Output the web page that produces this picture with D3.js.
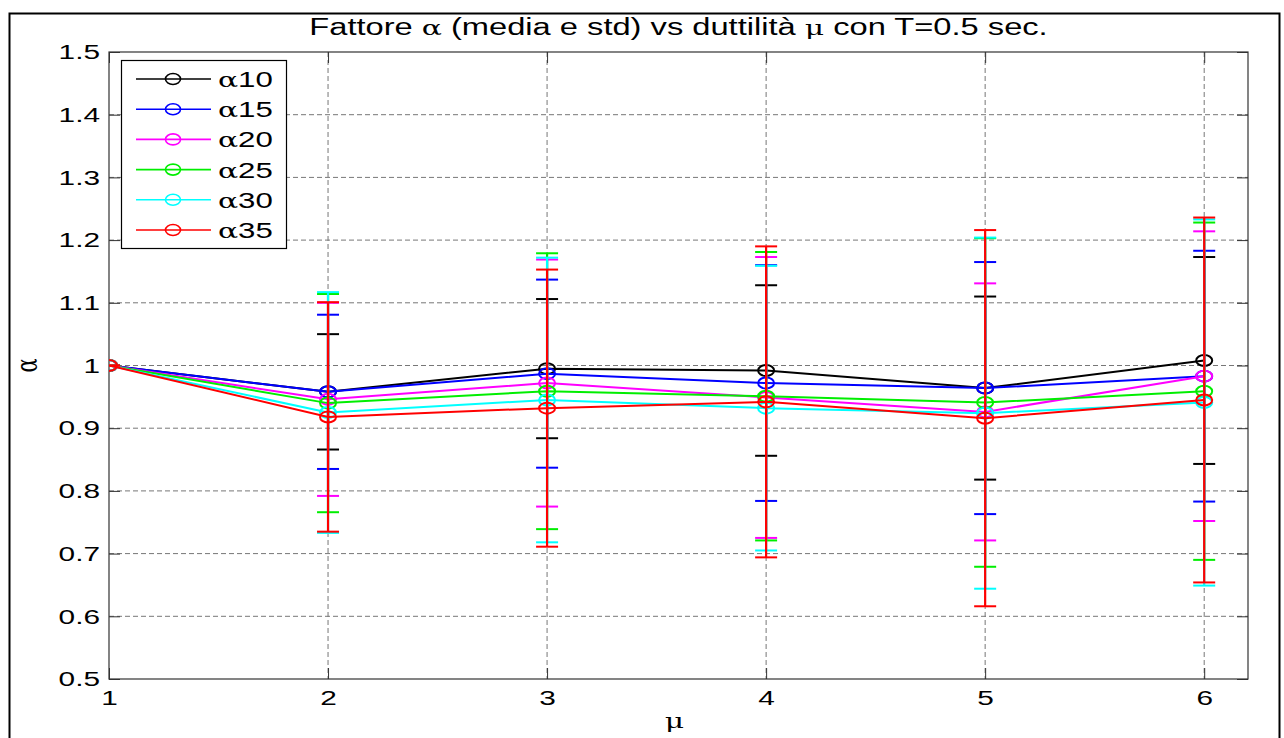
<!DOCTYPE html>
<html>
<head>
<meta charset="utf-8">
<script src="https://cdn.jsdelivr.net/npm/d3@7.9.0/dist/d3.min.js"></script>
<style>
  body { margin: 0; background: #fff; }
  svg text { font-family: "Liberation Sans", Arial, sans-serif; }
</style>
</head>
<body>
<div id="chart"></div>
<script>
// ductility values on the x axis
const mu = [1, 2, 3, 4, 5, 6];

// legend names
const seriesNames = ['10', '15', '20', '25', '30', '35'];

// mean of alpha for each series
const mean10 = [1, 0.958, 0.995, 0.992, 0.964, 1.008];
const mean15 = [1, 0.958, 0.987, 0.972, 0.964, 0.983];
const mean20 = [1, 0.946, 0.972, 0.949, 0.926, 0.983];
const mean25 = [1, 0.940, 0.959, 0.951, 0.941, 0.959];
const mean30 = [1, 0.925, 0.945, 0.932, 0.924, 0.941];
const mean35 = [1, 0.918, 0.932, 0.942, 0.916, 0.945];

// standard deviation for each series
const std10 = [0, 0.092, 0.111, 0.136, 0.146, 0.165];
const std15 = [0, 0.123, 0.150, 0.188, 0.201, 0.200];
const std20 = [0, 0.154, 0.197, 0.224, 0.205, 0.231];
const std25 = [0, 0.174, 0.220, 0.230, 0.262, 0.269];
const std30 = [0, 0.192, 0.227, 0.227, 0.280, 0.292];
const std35 = [0, 0.183, 0.221, 0.248, 0.300, 0.291];

const xTicks = [1, 2, 3, 4, 5, 6];
const yTicks = [0.5, 0.6, 0.7, 0.8, 0.9, 1, 1.1, 1.2, 1.3, 1.4, 1.5];

const colors = ['#000000', '#0000ff', '#ff00ff', '#00ee00', '#00ffff', '#ff0000'];
const means = [mean10, mean15, mean20, mean25, mean30, mean35];
const stds = [std10, std15, std20, std25, std30, std35];

const series = seriesNames.map((name, i) => ({
    name: name,
    color: colors[i],
    points: mu.map((m, j) => ({ x: m, y: means[i][j], s: stds[i][j] }))
}));

const width = 1284, height = 738;
const plotL = 109, plotR = 1248, plotT = 52, plotB = 679;
const sx = 1.42; // the figure is stretched horizontally, text too

// stretch text horizontally about its own x anchor
function stretch(sel) {
    sel.each(function() {
        const t = d3.select(this);
        const x0 = +t.attr('x') || 0;
        t.attr('transform', `translate(${x0 * (1 - sx)},0) scale(${sx},1)`);
    });
}

const svg = d3.select('#chart')
    .append('svg')
    .attr('width', width)
    .attr('height', height);

// outer figure frame
svg.append('rect')
    .attr('x', 9.5)
    .attr('y', 13.5)
    .attr('width', 1270)
    .attr('height', 740)
    .attr('fill', 'none')
    .attr('stroke', '#000')
    .attr('stroke-width', 2);

const x = d3.scaleLinear().domain([1, 6.2]).range([plotL, plotR]);
const y = d3.scaleLinear().domain([0.5, 1.5]).range([plotB, plotT]);

// grid lines
svg.append('g')
    .selectAll('line')
    .data(xTicks.slice(1))
    .join('line')
    .attr('x1', d => x(d)).attr('x2', d => x(d))
    .attr('y1', plotT).attr('y2', plotB)
    .attr('stroke', '#777')
    .attr('stroke-width', 1)
    .attr('stroke-dasharray', '5,3');

svg.append('g')
    .selectAll('line')
    .data(yTicks.slice(1, -1))
    .join('line')
    .attr('x1', plotL).attr('x2', plotR)
    .attr('y1', d => y(d)).attr('y2', d => y(d))
    .attr('stroke', '#777')
    .attr('stroke-width', 1)
    .attr('stroke-dasharray', '5,3');

// axes (ticks point inwards, like matlab)
const tickLen = 11;
const xAxisB = svg.append('g')
    .attr('transform', `translate(0,${plotB})`)
    .call(d3.axisBottom(x).tickValues(xTicks).tickSize(-tickLen).tickPadding(11).tickFormat(d3.format('d')));
const xAxisT = svg.append('g')
    .attr('transform', `translate(0,${plotT})`)
    .call(d3.axisTop(x).tickValues(xTicks).tickSize(-tickLen).tickFormat(''));
const yAxisL = svg.append('g')
    .attr('transform', `translate(${plotL},0)`)
    .call(d3.axisLeft(y).tickValues(yTicks).tickSize(-tickLen).tickPadding(9).tickFormat(d => d === 1 ? '1' : d3.format('.1f')(d)));
const yAxisR = svg.append('g')
    .attr('transform', `translate(${plotR},0)`)
    .call(d3.axisRight(y).tickValues(yTicks).tickSize(-tickLen).tickFormat(''));

[xAxisB, xAxisT, yAxisL, yAxisR].forEach(g => {
    g.select('.domain').remove();
    g.selectAll('line').attr('stroke', '#333');
    g.selectAll('text')
        .attr('fill', '#000')
        .style('font-size', '21px')
        .style('font-family', '"Liberation Sans", Arial, sans-serif');
});
stretch(xAxisB.selectAll('text'));
stretch(yAxisL.selectAll('text'));

// axes box
svg.append('rect')
    .attr('x', plotL)
    .attr('y', plotT)
    .attr('width', plotR - plotL)
    .attr('height', plotB - plotT)
    .attr('fill', 'none')
    .attr('stroke', '#333')
    .attr('stroke-width', 1.2);

svg.append('clipPath')
    .attr('id', 'plot-clip')
    .append('rect')
    .attr('x', plotL).attr('y', plotT)
    .attr('width', plotR - plotL).attr('height', plotB - plotT);

const plot = svg.append('g').attr('clip-path', 'url(#plot-clip)');

const line = d3.line().x(d => x(d.x)).y(d => y(d.y));
const tee = 11;

series.forEach(s => {
    const g = plot.append('g');

    // error bars
    g.selectAll('line.stem')
        .data(s.points)
        .join('line')
        .attr('class', 'stem')
        .attr('x1', d => x(d.x)).attr('x2', d => x(d.x))
        .attr('y1', d => y(d.y - d.s)).attr('y2', d => y(d.y + d.s))
        .attr('stroke', s.color)
        .attr('stroke-width', 2.2);

    ['lo', 'hi'].forEach(k => {
        g.selectAll('line.' + k)
            .data(s.points)
            .join('line')
            .attr('class', k)
            .attr('x1', d => x(d.x) - tee).attr('x2', d => x(d.x) + tee)
            .attr('y1', d => y(k === 'lo' ? d.y - d.s : d.y + d.s))
            .attr('y2', d => y(k === 'lo' ? d.y - d.s : d.y + d.s))
            .attr('stroke', s.color)
            .attr('stroke-width', 2);
    });

    // mean line
    g.append('path')
        .attr('d', line(s.points))
        .attr('fill', 'none')
        .attr('stroke', s.color)
        .attr('stroke-width', 2);

    g.selectAll('ellipse')
        .data(s.points)
        .join('ellipse')
        .attr('cx', d => x(d.x))
        .attr('cy', d => y(d.y))
        .attr('rx', 8)
        .attr('ry', 5.5)
        .attr('fill', 'none')
        .attr('stroke', s.color)
        .attr('stroke-width', 2);
});

// title
const title = svg.append('text')
    .attr('x', (plotL + plotR) / 2)
    .attr('y', 35)
    .attr('text-anchor', 'middle')
    .style('font-size', '23px');
title.append('tspan').text('Fattore ');
title.append('tspan').style('font-family', '"DejaVu Serif", serif').style('font-size', '21px').text('α');
title.append('tspan').text(' (media e std) vs duttilità ');
title.append('tspan').style('font-family', '"DejaVu Serif", serif').style('font-size', '21px').text('μ');
title.append('tspan').text(' con T=0.5 sec.');
stretch(title);

// axis labels
const xLabel = svg.append('text')
    .attr('x', (plotL + plotR) / 2 - 4)
    .attr('y', 728)
    .attr('text-anchor', 'middle')
    .style('font-family', '"DejaVu Serif", serif')
    .style('font-size', '21px')
    .text('μ');
stretch(xLabel);

svg.append('text')
    .attr('transform', `translate(37,${(plotT + plotB) / 2}) rotate(-90) scale(1,${sx})`)
    .attr('text-anchor', 'middle')
    .style('font-family', '"DejaVu Serif", serif')
    .style('font-size', '21px')
    .text('α');

// legend
const legend = svg.append('g');
legend.append('rect')
    .attr('x', 121.5).attr('y', 60.5)
    .attr('width', 165).attr('height', 188)
    .attr('fill', '#fff')
    .attr('stroke', '#000')
    .attr('stroke-width', 1.2);

const ly = d3.scalePoint().domain(seriesNames).range([79, 230]);
series.forEach(s => {
    const yy = ly(s.name);
    legend.append('line')
        .attr('x1', 136).attr('x2', 211)
        .attr('y1', yy).attr('y2', yy)
        .attr('stroke', s.color)
        .attr('stroke-width', 1.6);
    legend.append('ellipse')
        .attr('cx', 173).attr('cy', yy).attr('rx', 7.5).attr('ry', 5.5)
        .attr('fill', 'none')
        .attr('stroke', s.color)
        .attr('stroke-width', 1.6);
    const t = legend.append('text')
        .attr('x', 218).attr('y', yy + 8)
        .style('font-size', '22px');
    t.append('tspan').style('font-family', '"DejaVu Serif", serif').style('font-size', '21px').text('α');
    t.append('tspan').text(s.name);
    stretch(t);
});
</script>
</body>
</html>
